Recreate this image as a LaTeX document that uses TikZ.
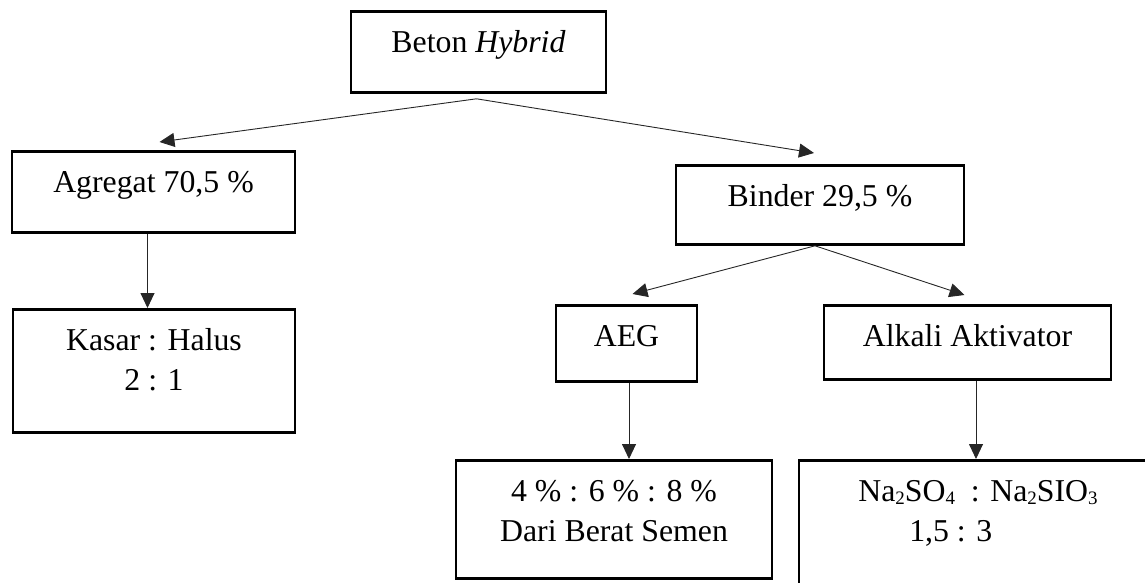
\documentclass[tikz,border=0pt]{standalone}
\usepackage{fontspec}
\setmainfont{Liberation Serif}
\usetikzlibrary{arrows.meta}
\newcommand\chemsub[1]{\raisebox{-3pt}{\fontsize{19}{19}\selectfont #1}}
\begin{document}
\begin{tikzpicture}[x=1pt,y=-1pt,
  box/.style={draw, line width=2.8pt, anchor=north, inner sep=0pt, text height=41pt,
    font=\fontsize{31.8}{40}\selectfont},
  conn/.style={line width=0.9pt, draw=black!85, -{Triangle[length=15pt,width=14pt]}}]
\useasboundingbox (0,0) rectangle (1145,583);
\clip (0,0) rectangle (1145,583);
\node[box, minimum width=255pt, text depth=40pt] (beton) at (478.5,10) {Beton \textit{Hybrid}};
\node[box, minimum width=283pt, text depth=40pt] (agregat) at (153.5,150) {Agregat 70,5 \%};
\node[box, minimum width=288pt, text depth=38pt] (binder) at (820,164) {Binder 29,5 \%};
\node[box, minimum width=282pt, text depth=82pt] (kasar) at (154,308)
  {\begin{tabular}[t]{@{}c@{}}Kasar : Halus\\2 : 1\end{tabular}};
\node[box, minimum width=141pt, text depth=35pt] (aeg) at (626.5,304) {AEG};
\node[box, minimum width=287pt, text depth=33pt] (alkali) at (967.5,304) {Alkali Aktivator};
\node[box, minimum width=316pt, text depth=77pt] (pct) at (614,459)
  {\begin{tabular}[t]{@{}c@{}}4 \% : 6 \% : 8 \%\\Dari Berat Semen\end{tabular}};
\node[box, minimum width=358pt, text depth=110pt] (na) at (978,459)
  {\begin{tabular}[t]{@{}l@{}}Na\chemsub{2}SO\chemsub{4}\ \ : Na\chemsub{2}SIO\chemsub{3}\\\hspace*{51pt}1,5 : 3\end{tabular}};
\coordinate (bs) at ([shift={(-2,5)}]beton.south);
\coordinate (ns) at ([xshift=-5pt]binder.south);
\draw[conn] (bs) -- ([shift={(6,-8)}]agregat.north);
\draw[conn] (bs) -- ([shift={(-6,-11)}]binder.north);
\draw[conn] (ns) -- ([shift={(6,-10)}]aeg.north);
\draw[conn] (ns) -- ([shift={(-3,-9)}]alkali.north);
\coordinate (a1) at ([xshift=-6pt]agregat.south);
\coordinate (a2) at ([xshift=2.5pt]aeg.south);
\coordinate (a3) at ([xshift=8.5pt]alkali.south);
\draw[conn] (a1) -- (a1 |- kasar.north);
\draw[conn] (a2) -- (a2 |- pct.north);
\draw[conn] (a3) -- (a3 |- na.north);
\end{tikzpicture}
\end{document}
